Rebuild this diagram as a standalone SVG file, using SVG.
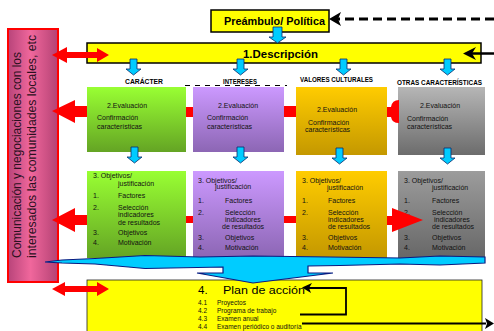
<svg xmlns="http://www.w3.org/2000/svg" width="494" height="331" viewBox="0 0 494 331">
<style>
.t{font-family:"Liberation Sans",Arial,sans-serif;font-size:7px;fill:#111}
.lbl{font-family:"Liberation Sans",Arial,sans-serif;font-size:6.5px;font-weight:bold;fill:#000}
.ybox{fill:#ffff00;stroke:#000;stroke-width:1.5}
.cy{fill:#00ccff;stroke:#0a2a6a;stroke-width:0.8}
.red{fill:#ff0000}
.blk{stroke:#000;fill:none}
</style>
<defs>
<linearGradient id="gGreen" x1="0" y1="0" x2="0" y2="1"><stop offset="0" stop-color="#99ff33"/><stop offset="1" stop-color="#64a424"/></linearGradient>
<linearGradient id="gPurple" x1="0" y1="0" x2="0" y2="1"><stop offset="0" stop-color="#cc99ff"/><stop offset="1" stop-color="#8c66b4"/></linearGradient>
<linearGradient id="gOrange" x1="0" y1="0" x2="0" y2="1"><stop offset="0" stop-color="#ffcc00"/><stop offset="1" stop-color="#c49800"/></linearGradient>
<linearGradient id="gGray" x1="0" y1="0" x2="0" y2="1"><stop offset="0" stop-color="#b6b6b6"/><stop offset="1" stop-color="#6c6c6c"/></linearGradient>
<linearGradient id="gGray3" x1="0" y1="0" x2="0" y2="1"><stop offset="0" stop-color="#9c9c9c"/><stop offset="1" stop-color="#666666"/></linearGradient>
<linearGradient id="gPink" x1="0" y1="0" x2="1" y2="0"><stop offset="0" stop-color="#b8447a"/><stop offset="0.45" stop-color="#f0679c"/><stop offset="1" stop-color="#b44274"/></linearGradient>
</defs>

<g id="comunicacion">
<rect x="8" y="29" width="50" height="253" fill="url(#gPink)" stroke="#ff0000" stroke-width="2"/>
<text class="t" style="font-size:12px;fill:#2a1020" transform="translate(21,258) rotate(-90)" textLength="206" lengthAdjust="spacingAndGlyphs">Comunicación y negociaciones con los</text>
<text class="t" style="font-size:12px;fill:#2a1020" transform="translate(36,258) rotate(-90)" textLength="223" lengthAdjust="spacingAndGlyphs">interesados las comunidades locales, etc</text>
</g>

<g id="preambulo">
<rect class="ybox" x="211" y="10" width="118" height="22"/>
<text x="224" y="25" style="font-family:'Liberation Sans',Arial,sans-serif;font-size:10.5px;font-weight:bold" textLength="101" lengthAdjust="spacingAndGlyphs">Preámbulo/ Política</text>
</g>

<g id="descripcion">
<rect class="ybox" x="87" y="43" width="394" height="20"/>
<text x="243" y="57.5" style="font-family:'Liberation Sans',Arial,sans-serif;font-size:11px;font-weight:bold" textLength="75" lengthAdjust="spacingAndGlyphs">1.Descripción</text>
</g>

<g id="labels">
<text class="lbl" x="125" y="84" textLength="38" lengthAdjust="spacingAndGlyphs">CARÁCTER</text>
<text class="lbl" x="223" y="84" textLength="34" lengthAdjust="spacingAndGlyphs">INTERESES</text>
<text class="lbl" x="300" y="82" textLength="73" lengthAdjust="spacingAndGlyphs">VALORES CULTURALES</text>
<text class="lbl" x="397" y="85" textLength="85" lengthAdjust="spacingAndGlyphs">OTRAS CARACTERÍSTICAS</text>
<line x1="185" y1="85.5" x2="287" y2="85.5" stroke="#000" stroke-width="1" stroke-dasharray="5,5"/>
</g>

<g id="eval-caracter">
<rect x="87" y="87" width="99" height="65" fill="url(#gGreen)"/>
<text class="t" x="107" y="108">2.Evaluación</text>
<text class="t" x="97" y="120">Confirmación</text>
<text class="t" x="97" y="129">características</text>
</g>
<g id="eval-intereses">
<rect x="193" y="87" width="91" height="65" fill="url(#gPurple)"/>
<text class="t" x="218" y="108">2.Evaluación</text>
<text class="t" x="207" y="120">Confirmación</text>
<text class="t" x="207" y="129">características</text>
</g>
<g id="eval-valores">
<rect x="296" y="87" width="91" height="68" fill="url(#gOrange)"/>
<text class="t" x="317" y="112">2.Evaluación</text>
<text class="t" x="308" y="125">Confirmación</text>
<text class="t" x="305" y="132">características</text>
</g>
<g id="eval-otras">
<rect x="398" y="87" width="87" height="68" fill="url(#gGray)"/>
<text class="t" x="420" y="108">2.Evaluación</text>
<text class="t" x="407" y="121">Confirmación</text>
<text class="t" x="407" y="129">características</text>
</g>

<g id="obj-caracter">
<rect x="87" y="171" width="99" height="87" fill="url(#gGreen)"/>
<text class="t" x="93" y="178">3. Objetivos/</text>
<text class="t" x="118" y="186">justificación</text>
<text class="t" x="93" y="198">1.</text><text class="t" x="118" y="198">Factores</text>
<text class="t" x="93" y="210">2.</text><text class="t" x="118" y="210">Selección</text>
<text class="t" x="118" y="217">indicadores</text>
<text class="t" x="118" y="225">de resultados</text>
<text class="t" x="93" y="235">3.</text><text class="t" x="118" y="235">Objetivos</text>
<text class="t" x="93" y="245">4.</text><text class="t" x="118" y="245">Motivación</text>
</g>
<g id="obj-intereses">
<rect x="193" y="171" width="91" height="87" fill="url(#gPurple)"/>
<text class="t" x="198" y="183">3. Objetivos/</text>
<text class="t" x="215" y="189">justificación</text>
<text class="t" x="198" y="203">1.</text><text class="t" x="225" y="203">Factores</text>
<text class="t" x="198" y="215">2.</text><text class="t" x="225" y="215">Selección</text>
<text class="t" x="225" y="222">indicadores</text>
<text class="t" x="222" y="229">de resultados</text>
<text class="t" x="198" y="240">3.</text><text class="t" x="225" y="240">Objetivos</text>
<text class="t" x="198" y="250">4.</text><text class="t" x="225" y="250">Motivación</text>
</g>
<g id="obj-valores">
<rect x="296" y="171" width="91" height="87" fill="url(#gOrange)"/>
<text class="t" x="302" y="183">3. Objetivos/</text>
<text class="t" x="327" y="190">justificación</text>
<text class="t" x="302" y="203">1.</text><text class="t" x="328" y="203">Factores</text>
<text class="t" x="302" y="215">2.</text><text class="t" x="328" y="215">Selección</text>
<text class="t" x="328" y="222">indicadores</text>
<text class="t" x="328" y="229">de resultados</text>
<text class="t" x="302" y="240">3.</text><text class="t" x="328" y="240">Objetivos</text>
<text class="t" x="302" y="250">4.</text><text class="t" x="328" y="250">Motivación</text>
</g>
<g id="obj-otras">
<rect x="398" y="171" width="87" height="89" fill="url(#gGray3)"/>
<text class="t" x="404" y="183">3. Objetivos/</text>
<text class="t" x="432" y="190">justificación</text>
<text class="t" x="404" y="203">1.</text><text class="t" x="432" y="203">Factores</text>
<text class="t" x="404" y="215">2.</text><text class="t" x="432" y="215">Selección</text>
<text class="t" x="434" y="222">indicadores</text>
<text class="t" x="432" y="229">de resultados</text>
<text class="t" x="404" y="240">3.</text><text class="t" x="432" y="240">Objetivos</text>
<text class="t" x="404" y="250">4.</text><text class="t" x="432" y="250">Motivación</text>
</g>

<g id="plan">
<rect x="87" y="280" width="395" height="56" fill="#ffff00" stroke="#222" stroke-width="0.8"/>
<text x="198" y="294" style="font-family:'Liberation Sans',Arial,sans-serif;font-size:11.5px">4.</text>
<text x="223" y="294" style="font-family:'Liberation Sans',Arial,sans-serif;font-size:11.5px" textLength="82" lengthAdjust="spacingAndGlyphs">Plan de acción</text>
<text class="t" x="198" y="305" style="font-size:6.5px">4.1</text><text class="t" x="217" y="305" style="font-size:6.5px">Proyectos</text>
<text class="t" x="198" y="313" style="font-size:6.5px">4.2</text><text class="t" x="217" y="313" style="font-size:6.5px">Programa de trabajo</text>
<text class="t" x="198" y="321" style="font-size:6.5px">4.3</text><text class="t" x="217" y="321" style="font-size:6.5px">Examen anual</text>
<text class="t" x="198" y="329" style="font-size:6.5px">4.4</text><text class="t" x="217" y="329" style="font-size:6.5px">Examen periódico o auditoría</text>
</g>

<g id="connectors">
<line x1="494" y1="19" x2="334" y2="19" stroke="#000" stroke-width="3" stroke-dasharray="9,5"/>
<path d="M329,19 L341,12 L338,19 L341,26 Z" fill="#000"/>
<line x1="494" y1="53.5" x2="470" y2="53.5" stroke="#000" stroke-width="2.5"/>
<path d="M463,53.5 L476,47 L472,53.5 L476,60 Z" fill="#000"/>
<path class="cy" d="M273,27 H282 V37 H286 L277.5,43 L269,37 H273 Z"/>
<path class="cy" d="M130,59 H137 V69 H141 L133.5,75 L126,69 H130 Z"/>
<path class="cy" d="M237,59 H244 V69 H248 L240.5,75 L233,69 H237 Z"/>
<path class="cy" d="M340,59 H347 V69 H351 L343.5,75 L336,69 H340 Z"/>
<path class="cy" d="M444,59 H451 V69 H455 L447.5,75 L440,69 H444 Z"/>
<path class="cy" d="M131,147 H138 V157 H142 L134.5,163 L127,157 H131 Z"/>
<path class="cy" d="M237,147 H244 V157 H248 L240.5,163 L233,157 H237 Z"/>
<path class="cy" d="M336,148 H343 V158 H347 L339.5,164 L332,158 H336 Z"/>
<path class="cy" d="M444,148 H451 V158 H455 L447.5,164 L440,158 H444 Z"/>
<path class="red" d="M52,55 L67,47 L67,52 L97,52 L97,48 L109,55 L97,62 L97,58 L67,58 L67,63 Z"/>
<path class="red" d="M52,289 L65,282 L65,286 L97,286 L97,282 L109,289 L97,296 L97,292 L65,292 L65,296 Z"/>
<path class="red" d="M52,111 L75,100 L75,106 L87,106 L87,117 L75,117 L75,123 Z"/>
<path class="red" d="M52,220 L75,208 L75,215 L87,215 L87,225 L75,225 L75,232 Z"/>
<rect class="red" x="186" y="107" width="7" height="10"/>
<rect class="red" x="284" y="106" width="12" height="11"/>
<path class="red" d="M387,107 L391,107 Q392,100 399,100 L399,123 Q392,123 391,117 L387,117 Z"/>
<rect class="red" x="186" y="216" width="7" height="7"/>
<rect class="red" x="284" y="216" width="12" height="7"/>
<path class="red" d="M387,216 L392,216 L392,208 L423,220 L392,232 L392,225 L387,225 Z"/>
<path d="M45,262 L62,260 L95,258.5 L145,255.5 L200,257 L253,256 L330,257 L400,258 L440,256 L485,257 L485,263 L440,265 L400,264 L340,265.5 L308,266 L308,273 L333,273 L253,283 L197,273 L223,273 L223,267 L145,268.5 L95,264 L62,263 Z" fill="#00ccff" stroke="#0a1a80" stroke-width="1.2"/>
<polyline points="300,314.5 346,314.5 346,288 306,288" class="blk" stroke-width="1.8"/>
<path d="M302,287.5 L312,283 L309,288 L311,293 Z" fill="#000"/>
<line x1="302" y1="323.5" x2="486" y2="323.5" stroke="#000" stroke-width="2.2"/>
<path d="M494,323.5 L485,318 L487,323.5 L485,329 Z" fill="#000"/>
</g>
</svg>
